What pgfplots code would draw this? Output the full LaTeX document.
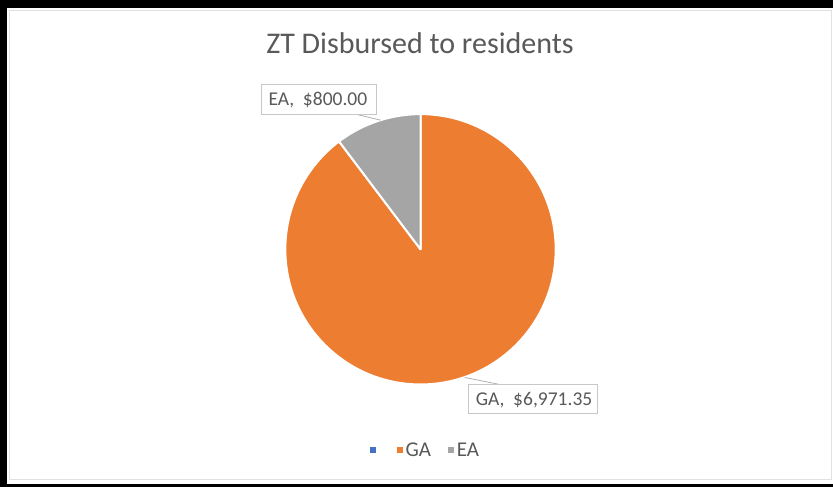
\documentclass[border=0pt]{standalone}
\usepackage{fontspec}
\setmainfont{Carlito}
\usepackage{pgfplots}
\usepackage{pgfplotstable}
\pgfplotsset{compat=1.18}
\definecolor{gaC}{RGB}{237,125,49}
\definecolor{eaC}{RGB}{165,165,165}
\definecolor{blC}{RGB}{68,114,196}
\definecolor{txtC}{RGB}{89,89,89}
\definecolor{boxC}{RGB}{200,200,200}
\definecolor{leadC}{RGB}{175,175,175}
\definecolor{frameC}{RGB}{225,225,225}

\pgfplotstableread{
label value
GA 6971.35
EA 800.00
}\piedata
\pgfplotstablegetelem{0}{value}\of\piedata \let\vGA\pgfplotsretval
\pgfplotstablegetelem{1}{value}\of\piedata \let\vEA\pgfplotsretval
\pgfmathsetmacro\fracGA{\vGA/(\vGA+\vEA)}
\pgfmathsetmacro\endGA{90-360*\fracGA}

\begin{document}
\begin{tikzpicture}
\begin{axis}[
  scale only axis, width=833pt, height=487pt,
  xmin=0, xmax=833, ymin=0, ymax=487,
  hide axis, clip=false]
% frame
\fill[black] (axis cs:1,478) rectangle (axis cs:833,486);
\fill[black] (axis cs:1,0) rectangle (axis cs:8,486);
\fill[black] (axis cs:1,0) rectangle (axis cs:833,3);
\draw[frameC, line width=1pt] (axis cs:10,7) rectangle (axis cs:831,476);
% title
\node[anchor=base, text=txtC, font=\fontsize{30}{36}\selectfont] at (axis cs:420.5,433) {ZT Disbursed to residents};
% slices
\filldraw[fill=gaC, draw=white, line width=2pt, line join=round] (axis cs:421,237) -- ++(90:135pt) arc[start angle=90, end angle=\endGA, radius=135pt] -- cycle;
\filldraw[fill=eaC, draw=white, line width=2pt, line join=round] (axis cs:421,237) -- ++(\endGA:135pt) arc[start angle=\endGA, end angle=-270, radius=135pt] -- cycle;
% data labels
\draw[leadC, line width=0.8pt] (axis cs:356,372) -- (axis cs:381,366);
\draw[boxC, line width=1pt, fill=white] (axis cs:262,372) rectangle (axis cs:377,402);
\node[anchor=base west, inner sep=0pt, text=txtC, font=\fontsize{19.5}{23}\selectfont] at (axis cs:269,381) {EA,\ \ \$800.00};
\draw[leadC, line width=0.8pt] (axis cs:465,109) -- (axis cs:500,102);
\draw[boxC, line width=1pt, fill=white] (axis cs:469,73) rectangle (axis cs:598,102);
\node[anchor=base west, inner sep=0pt, text=txtC, font=\fontsize{19.5}{23}\selectfont] at (axis cs:476,81) {GA,\ \ \$6,971.35};
% legend
\fill[blC] (axis cs:371,34) rectangle (axis cs:377,40);
\fill[gaC] (axis cs:398,34) rectangle (axis cs:404,40);
\node[anchor=base west, inner sep=0pt, text=txtC, font=\fontsize{21}{25}\selectfont] at (axis cs:406,30) {GA};
\fill[eaC] (axis cs:448,34) rectangle (axis cs:454,40);
\node[anchor=base west, inner sep=0pt, text=txtC, font=\fontsize{21}{25}\selectfont] at (axis cs:457,30) {EA};
\end{axis}
\end{tikzpicture}
\end{document}
